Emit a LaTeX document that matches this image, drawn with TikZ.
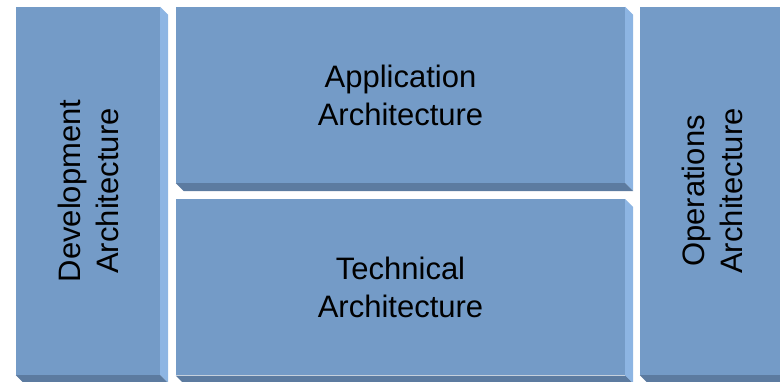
\documentclass[tikz,border=0pt]{standalone}
\usepackage{xcolor}
\usepackage{fontspec}
\setmainfont{Liberation Sans}
\usepackage{tikz}
\usetikzlibrary{positioning, calc}
\definecolor{boxfront}{RGB}{116,155,199}
\definecolor{boxside}{RGB}{141,181,227}
\definecolor{boxbottom}{RGB}{92,123,160}

\begin{document}
\begin{tikzpicture}[x=1pt, y=1pt]
		\tikzstyle{archbox}=[draw=none, fill=boxfront, inner sep=0pt, minimum height=176pt, minimum width=449pt]
		\tikzstyle{archcol}=[draw=none, fill=boxfront, inner sep=0pt, minimum height=368pt, minimum width=144pt]
		\tikzstyle{archtext}=[text=black, align=center, font=\fontsize{31}{38}\selectfont]
		\tikzstyle{sideface}=[fill=boxside]
		\tikzstyle{bottomface}=[fill=boxbottom]
		
		\useasboundingbox (0,0) rectangle (780,382);
		
		%% front faces
		\node [archcol] (dev) at (88,191) {};
		\node [archbox] (app) at (400.5,287) {};
		\node [archbox, below=16pt of app] (tech) {};
		\node [archcol] (ops) at (712,191) {};
		
		%% side and bottom faces
		\foreach \b in {dev,app,tech,ops}
		{
		\fill [sideface] (\b.north east) -- ++(8,-8) -- ($(\b.south east)+(8,-8)$) -- (\b.south east) -- cycle;
		\fill [bottomface] (\b.south west) -- (\b.south east) -- ++(8,-8) -- ($(\b.south west)+(8,-8)$) -- cycle;
		}
		
		%% labels
		\node [archtext, rotate=90] (devlabel) at (dev) {Development\\Architecture};
		\node [archtext] (applabel) at (app) {Application\\Architecture};
		\node [archtext] (techlabel) at (tech) {Technical\\Architecture};
		\node [archtext, rotate=90] (opslabel) at (ops) {Operations\\Architecture};
		%%
		\end{tikzpicture}
\end{document}
